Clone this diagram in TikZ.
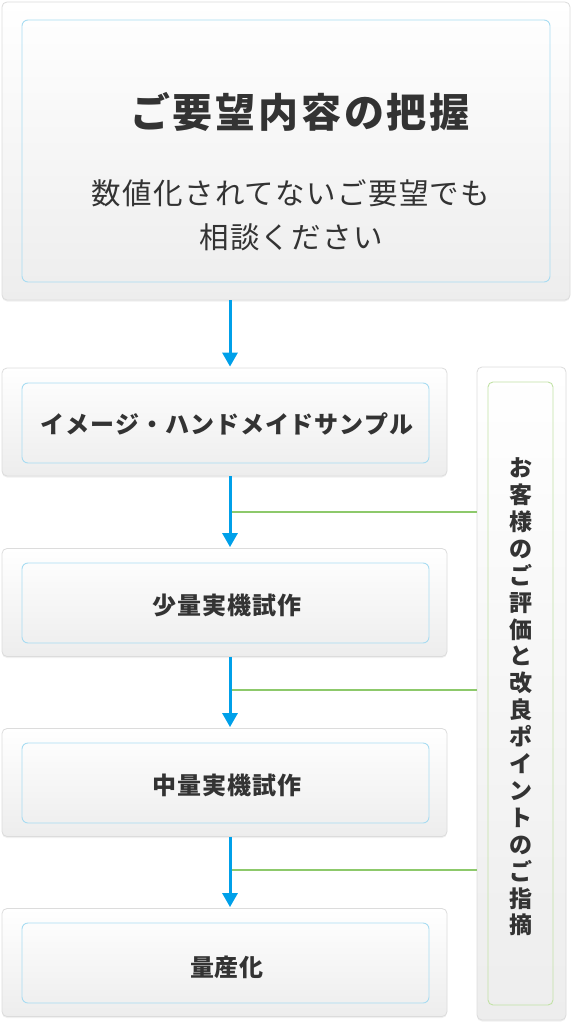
\documentclass[tikz,border=0pt]{standalone}
\usepackage{fontspec}
\newfontfamily\jp{Noto Sans CJK JP}
\usetikzlibrary{arrows.meta,shadows}
\definecolor{txt}{HTML}{333333}
\definecolor{obrd}{HTML}{DCDCDC}
\definecolor{gtop}{HTML}{FFFFFF}
\definecolor{gbot}{HTML}{EDEDED}
\definecolor{ibrd}{HTML}{A8DCF2}
\definecolor{gbrd}{HTML}{C2E2A6}
\definecolor{ablue}{HTML}{00A0E9}
\definecolor{lgreen}{HTML}{8DC96B}
\begin{document}
\begin{tikzpicture}[x=1pt,y=-1pt,
  outerbox/.style={draw=obrd, line width=0.8pt, rounded corners=5pt, top color=gtop, bottom color=gbot,
    drop shadow={opacity=0.12, shadow xshift=0pt, shadow yshift=-1.5pt}, inner sep=0pt},
  innerbox/.style={draw=ibrd, line width=0.9pt, rounded corners=6pt, inner sep=0pt},
  greenbox/.style={draw=gbrd, line width=0.9pt, rounded corners=5pt, inner sep=0pt},
  label/.style={text=txt, inner sep=0pt},
  boxtext/.style={label, font={\jp\bfseries\fontsize{24}{26}\selectfont\addfontfeature{LetterSpace=4}}},
  arr/.style={draw=ablue, line width=3pt, -{Triangle[width=15pt,length=14pt]}},
  fb/.style={draw=lgreen, line width=2pt}
]
\useasboundingbox (0,0) rectangle (572,1024);
% boxes
\node[outerbox, minimum width=568pt, minimum height=298pt] (o1) at (286,151) {};
\node[innerbox, minimum width=528pt, minimum height=262pt] (i1) at (286,151) {};
\node[outerbox, minimum width=445pt, minimum height=108pt] (o2) at (224.5,422) {};
\node[innerbox, minimum width=407pt, minimum height=80pt] (i2) at (225.5,423) {};
\node[outerbox, minimum width=445pt, minimum height=108pt] (o3) at (224.5,602.5) {};
\node[innerbox, minimum width=407pt, minimum height=80pt] (i3) at (225.5,603) {};
\node[outerbox, minimum width=445pt, minimum height=108pt] (o4) at (224.5,782.5) {};
\node[innerbox, minimum width=407pt, minimum height=80pt] (i4) at (225.5,783) {};
\node[outerbox, minimum width=445pt, minimum height=108pt] (o5) at (224.5,962.5) {};
\node[innerbox, minimum width=407pt, minimum height=80pt] (i5) at (225.5,963) {};
\node[outerbox, minimum width=89pt, minimum height=653pt] (o6) at (521.5,693.5) {};
\node[greenbox, minimum width=65pt, minimum height=623pt] (i6) at (520.5,693.5) {};
% texts
\node[label, font={\jp\bfseries\fontsize{40}{42}\selectfont\addfontfeature{LetterSpace=7}}] (t1) at (300,112) {ご要望内容の把握};
\node[label, font={\jp\fontsize{29.5}{44}\selectfont\addfontfeature{LetterSpace=4.5}}, align=center] (t1b) at (291,215) {数値化されてないご要望でも\\相談ください};
\node[boxtext] (t2) at (227,424) {イメージ・ハンドメイドサンプル};
\node[boxtext] (t3) at (227,605) {少量実機試作};
\node[boxtext] (t4) at (227,785) {中量実機試作};
\node[boxtext] (t5) at (227,967) {量産化};
\node[label, align=center, font={\jp\bfseries\fontsize{23}{26.9}\selectfont}] (t6) at (521,697) {お\\客\\様\\の\\ご\\評\\価\\と\\改\\良\\ポ\\イ\\ン\\ト\\の\\ご\\指\\摘};
% connectors
\coordinate (ax) at (230,0);
\coordinate (g1) at (230,512);
\coordinate (g2) at (230,690);
\coordinate (g3) at (230,870);
\draw[fb] (g1) -- (g1 -| o6.west);
\draw[fb] (g2) -- (g2 -| o6.west);
\draw[fb] (g3) -- (g3 -| o6.west);
\draw[arr] (o1.south -| ax) -- ([yshift=1pt]o2.north -| ax);
\draw[arr] (o2.south -| ax) -- ([yshift=1pt]o3.north -| ax);
\draw[arr] (o3.south -| ax) -- ([yshift=1pt]o4.north -| ax);
\draw[arr] (o4.south -| ax) -- ([yshift=1pt]o5.north -| ax);
\end{tikzpicture}
\end{document}
